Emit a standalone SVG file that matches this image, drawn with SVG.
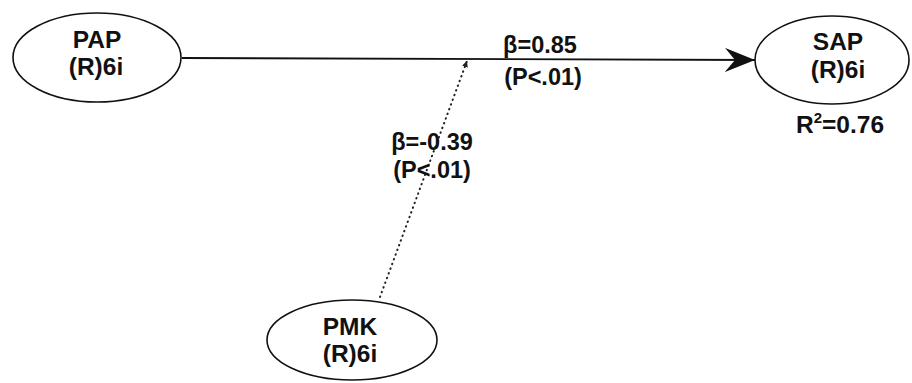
<svg xmlns="http://www.w3.org/2000/svg" width="912" height="383" viewBox="0 0 912 383">
<style>
.node{fill:#fff;stroke:#111;stroke-width:1.6}
.t{font-family:"Liberation Sans",Arial,sans-serif;font-weight:bold;font-size:24.5px;fill:#111;text-anchor:middle}
.lbl{font-family:"Liberation Sans",Arial,sans-serif;font-weight:bold;font-size:23.5px;fill:#111;text-anchor:middle}
</style>
<defs>
<marker id="ah" markerUnits="userSpaceOnUse" markerWidth="32" markerHeight="26" refX="30" refY="12" orient="auto">
<path d="M0,0 L30,12 L0,24 L10,12 Z" fill="#111"/>
</marker>
<marker id="ahs" markerUnits="userSpaceOnUse" markerWidth="8" markerHeight="8" refX="6" refY="3" orient="auto">
<path d="M0,0 L6,3 L0,6 Z" fill="#222"/>
</marker>
</defs>
<rect width="912" height="383" fill="#fff"/>
<g id="connectors">
<line x1="182" y1="58" x2="755" y2="60" stroke="#111" stroke-width="1.8" marker-end="url(#ah)"/>
<line x1="380" y1="297" x2="467" y2="61" stroke="#222" stroke-width="2" stroke-linecap="round" stroke-dasharray="0.5 4.5" marker-end="url(#ahs)"/>
<text class="lbl" x="540" y="53">β=0.85</text>
<text class="lbl" x="543" y="85">(P&lt;.01)</text>
<text class="lbl" x="432" y="150">β=-0.39</text>
<text class="lbl" x="432" y="178">(P&lt;.01)</text>
</g>
<g id="PAP">
<ellipse class="node" cx="97" cy="57.5" rx="84" ry="44.5"/>
<text class="t" x="97" y="48">PAP</text>
<text class="t" x="96" y="75">(R)6i</text>
</g>
<g id="SAP">
<ellipse class="node" cx="832" cy="60" rx="77" ry="44"/>
<text class="t" x="838" y="50">SAP</text>
<text class="t" x="838" y="78">(R)6i</text>
<text class="t" x="840" y="133">R<tspan font-size="15" dy="-10">2</tspan><tspan dy="10">=0.76</tspan></text>
</g>
<g id="PMK">
<ellipse class="node" cx="352" cy="340" rx="85" ry="40"/>
<text class="t" x="350" y="335">PMK</text>
<text class="t" x="350" y="362">(R)6i</text>
</g>
</svg>
